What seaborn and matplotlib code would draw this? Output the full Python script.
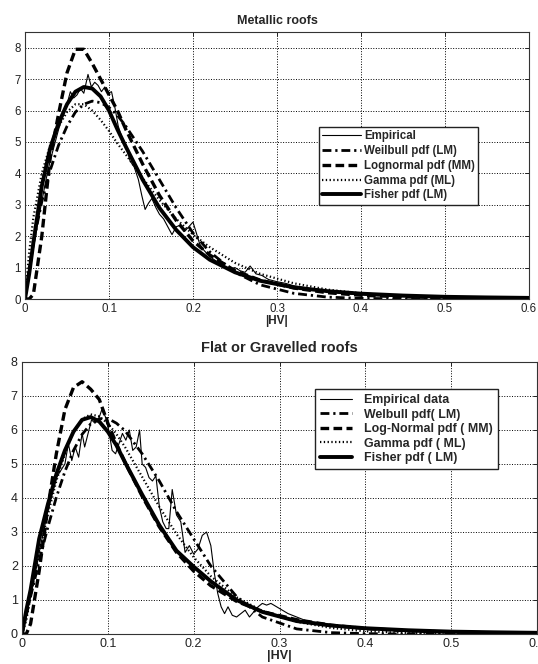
import matplotlib
matplotlib.use("Agg")
import matplotlib.pyplot as plt
import seaborn as sns

# x grid the fitted pdfs were read on
x_fit = [0, 0.005, 0.01, 0.02, 0.03, 0.04, 0.05, 0.06, 0.07, 0.08, 0.09, 0.10, 0.11, 0.12,
         0.14, 0.16, 0.18, 0.20, 0.22, 0.25, 0.28, 0.32, 0.36, 0.40, 0.45, 0.50, 0.55, 0.60]

# ---- Metallic roofs
met_emp_x = [0, .005, .01, .015, .02, .025, .03, .035, .04, .045, .05, .054, .058, .062, .066, .07,
             .075, .079, .083, .087, .091, .095, .099, .103, .107, .111, .116, .12, .125, .13, .135,
             .139, .143, .147, .151, .156, .16, .165, .17, .175, .18, .185, .19, .195, .2, .204, .208,
             .213, .22, .228, .235, .242, .25, .256, .262, .268, .275, .282, .29, .3, .31, .32, .33,
             .34, .35, .37, .39, .42, .45, .5, .55, .6]
met_emp_y = [0, .7, 1.6, 2.4, 3.1, 3.8, 4.4, 4.9, 5.4, 5.8, 6.2, 6.6, 6.4, 6.5, 6.7, 6.55,
             7.15, 6.75, 6.9, 6.8, 6.6, 6.75, 6.55, 6.6, 6.1, 5.5, 5.1, 4.9, 4.4, 4.2, 3.8,
             3.3, 2.85, 3.05, 3.2, 2.9, 2.7, 2.55, 2.3, 2.05, 2.3, 2.35, 2.15, 2.3, 2.45, 2.1, 1.75,
             1.55, 1.35, 1.2, 1.1, 0.95, 1.0, 0.9, 0.85, 1.05, 0.8, 0.75, 0.62, 0.55, 0.5, 0.42, 0.38,
             0.32, 0.28, 0.2, 0.15, 0.1, 0.07, 0.04, 0.02, 0.01]
met_weibull = [0, 1.0, 1.8, 3.1, 4.1, 4.9, 5.5, 5.95, 6.2, 6.3, 6.25, 6.1, 5.85, 5.5,
               4.7, 3.8, 2.9, 2.1, 1.5, 0.85, 0.45, 0.18, 0.06, 0.02, 0.005, 0, 0, 0]
met_lognormal = [0, 0.0, 0.15, 2.0, 4.5, 5.9, 7.2, 7.95, 7.95, 7.5, 7.0, 6.5, 6.0, 5.4,
                 4.3, 3.3, 2.5, 1.85, 1.4, 0.9, 0.6, 0.35, 0.2, 0.12, 0.07, 0.04, 0.025, 0.015]
met_gamma = [0, 1.5, 2.6, 4.0, 4.9, 5.5, 5.95, 6.2, 6.2, 6.0, 5.7, 5.35, 4.95, 4.6,
             3.85, 3.15, 2.55, 2.05, 1.65, 1.15, 0.8, 0.5, 0.3, 0.18, 0.1, 0.055, 0.03, 0.015]
met_fisher = [0, 0.8, 1.8, 3.6, 4.8, 5.6, 6.2, 6.6, 6.75, 6.7, 6.45, 6.0, 5.4, 4.85,
              3.8, 2.9, 2.2, 1.65, 1.25, 0.85, 0.58, 0.37, 0.25, 0.17, 0.11, 0.07, 0.05, 0.035]

# ---- Flat or gravelled roofs
flat_emp_x = [0, .005, .01, .015, .02, .025, .03, .035, .04, .045, .05, .054, .058, .062, .066, .07,
              .073, .077, .081, .085, .089, .093, .097, .101, .105, .109, .113, .117, .121, .125, .129,
              .133, .137, .14, .144, .148, .152, .156, .16, .164, .168, .171, .175, .18, .185, .19,
              .195, .2, .205, .21, .215, .22, .224, .228, .232, .236, .24, .245, .25, .255, .26, .265,
              .27, .275, .28, .285, .29, .3, .31, .32, .33, .34, .36, .38, .4, .43, .46, .5, .55, .6]
flat_emp_y = [0, .5, 1.1, 1.7, 2.4, 3.0, 3.6, 4.1, 4.6, 4.8, 5.0, 5.6, 5.1, 5.5, 5.2, 5.9,
              5.5, 5.9, 6.3, 6.2, 6.3, 6.6, 6.4, 6.0, 5.4, 5.3, 5.6, 5.9, 5.7, 6.0, 5.4,
              5.5, 6.0, 5.0, 4.9, 4.6, 4.5, 4.65, 3.75, 3.3, 3.1, 3.1, 4.25, 3.5, 3.3, 2.4,
              2.6, 2.35, 2.5, 2.9, 3.0, 2.6, 1.8, 1.2, 0.8, 0.6, 0.8, 0.55, 0.5, 0.6, 0.7, 0.5,
              0.65, 0.8, 0.9, 0.85, 0.9, 0.75, 0.6, 0.5, 0.4, 0.35, 0.28, 0.2, 0.15, 0.1, 0.06, 0.03, 0.02, 0.01]
flat_weibull = [0, 0.55, 1.1, 2.15, 3.13, 4.02, 4.78, 5.4, 5.87, 6.18, 6.33, 6.34, 6.2, 5.98,
                5.3, 4.5, 3.6, 2.8, 2.0, 1.1, 0.5, 0.15, 0.04, 0.01, 0, 0, 0, 0]
flat_lognormal = [0, 0.0, 0.3, 1.85, 3.7, 5.3, 6.6, 7.25, 7.42, 7.2, 6.9, 6.2, 5.6, 5.05,
                  4.05, 3.15, 2.4, 1.85, 1.42, 0.96, 0.66, 0.42, 0.26, 0.16, 0.095, 0.057, 0.035, 0.022]
flat_gamma = [0, 0.4, 1.1, 2.4, 3.5, 4.5, 5.3, 5.95, 6.32, 6.46, 6.4, 6.19, 5.88, 5.5,
              4.62, 3.74, 2.94, 2.26, 1.7, 1.08, 0.68, 0.36, 0.18, 0.08, 0.03, 0.0125, 0.005, 0.002]
flat_fisher = [0, 0.7, 1.3, 2.8, 3.8, 4.7, 5.4, 5.95, 6.3, 6.38, 6.25, 5.95, 5.55, 5.05,
               4.1, 3.2, 2.45, 1.98, 1.55, 1.0, 0.65, 0.38, 0.25, 0.17, 0.11, 0.07, 0.05, 0.035]

x_ticks = [0, 0.1, 0.2, 0.3, 0.4, 0.5, 0.6]
x_ticklabels = ["0", "0.1", "0.2", "0.3", "0.4", "0.5", "0.6"]
y_ticks = [0, 1, 2, 3, 4, 5, 6, 7, 8]

met_labels = ["Empirical", "Weilbull pdf (LM)", "Lognormal pdf (MM)", "Gamma pdf (ML)", "Fisher pdf (LM)"]
flat_labels = ["Empirical data", "Welbull pdf( LM)", "Log-Normal pdf ( MM)", "Gamma pdf ( ML)", "Fisher pdf ( LM)"]

sns.set_style("white")
plt.rcParams["font.family"] = ["Liberation Sans", "DejaVu Sans"]

fig = plt.figure(figsize=(5.38, 6.64), dpi=100)
ax1 = fig.add_axes([25 / 538, 1 - 299 / 664, 504 / 538, 267 / 664])
ax2 = fig.add_axes([22 / 538, 1 - 634 / 664, 515 / 538, 272 / 664])


def draw(ax, ex, ey, wb, ln, gm, fs, labels):
    sns.lineplot(x=ex, y=ey, ax=ax, color="k", linewidth=0.8, label=labels[0])
    sns.lineplot(x=x_fit, y=wb, ax=ax, color="k", linewidth=2.0,
                 linestyle=(0, (3.2, 1.4, 0.8, 1.4)), label=labels[1])
    sns.lineplot(x=x_fit, y=ln, ax=ax, color="k", linewidth=2.4,
                 linestyle=(0, (2.6, 1.3)), label=labels[2])
    sns.lineplot(x=x_fit, y=gm, ax=ax, color="k", linewidth=1.6,
                 linestyle=(0, (0.6, 1.1)), label=labels[3])
    sns.lineplot(x=x_fit, y=fs, ax=ax, color="k", linewidth=2.8, label=labels[4])

    ax.set_xlim(0, 0.6)
    ax.set_xticks(x_ticks)
    ax.set_xticklabels(x_ticklabels)
    ax.set_yticks(y_ticks)
    ax.grid(True, linestyle=":", color="k", linewidth=0.7)
    ax.tick_params(direction="in", top=True, right=True, length=3, width=0.7,
                   colors="#222222", pad=3)
    for s in ax.spines.values():
        s.set_color("#333333")
        s.set_linewidth(0.8)


draw(ax1, met_emp_x, met_emp_y, met_weibull, met_lognormal, met_gamma, met_fisher, met_labels)
ax1.set_ylim(0, 8.5)
ax1.tick_params(labelsize=8.3)
ax1.set_title("Metallic roofs", fontsize=9, fontweight="bold", pad=6)
ax1.set_xlabel("|HV|", fontsize=8.5, fontweight="bold", labelpad=0)
ax1.set_ylabel("")
ax1.legend(loc="upper left", bbox_to_anchor=(0.583, 0.645), frameon=True, fancybox=False,
           edgecolor="#222222", framealpha=1, prop=dict(weight="bold", size=8.3),
           handlelength=3.4, handletextpad=0.2, labelspacing=0.24, borderpad=0.3,
           borderaxespad=0)

draw(ax2, flat_emp_x, flat_emp_y, flat_weibull, flat_lognormal, flat_gamma, flat_fisher, flat_labels)
ax2.set_ylim(0, 8)
ax2.tick_params(labelsize=9)
ax2.set_title("Flat or Gravelled roofs", fontsize=10.5, fontweight="bold", pad=7)
ax2.set_xlabel("|HV|", fontsize=9, fontweight="bold", labelpad=0)
ax2.set_ylabel("")
ax2.legend(loc="upper left", bbox_to_anchor=(0.569, 0.90), frameon=True, fancybox=False,
           edgecolor="#222222", framealpha=1, prop=dict(weight="bold", size=8.9),
           handlelength=2.6, handletextpad=1.0, labelspacing=0.2, borderpad=0.4,
           borderaxespad=0)

fig.savefig("out.png", dpi=100)
